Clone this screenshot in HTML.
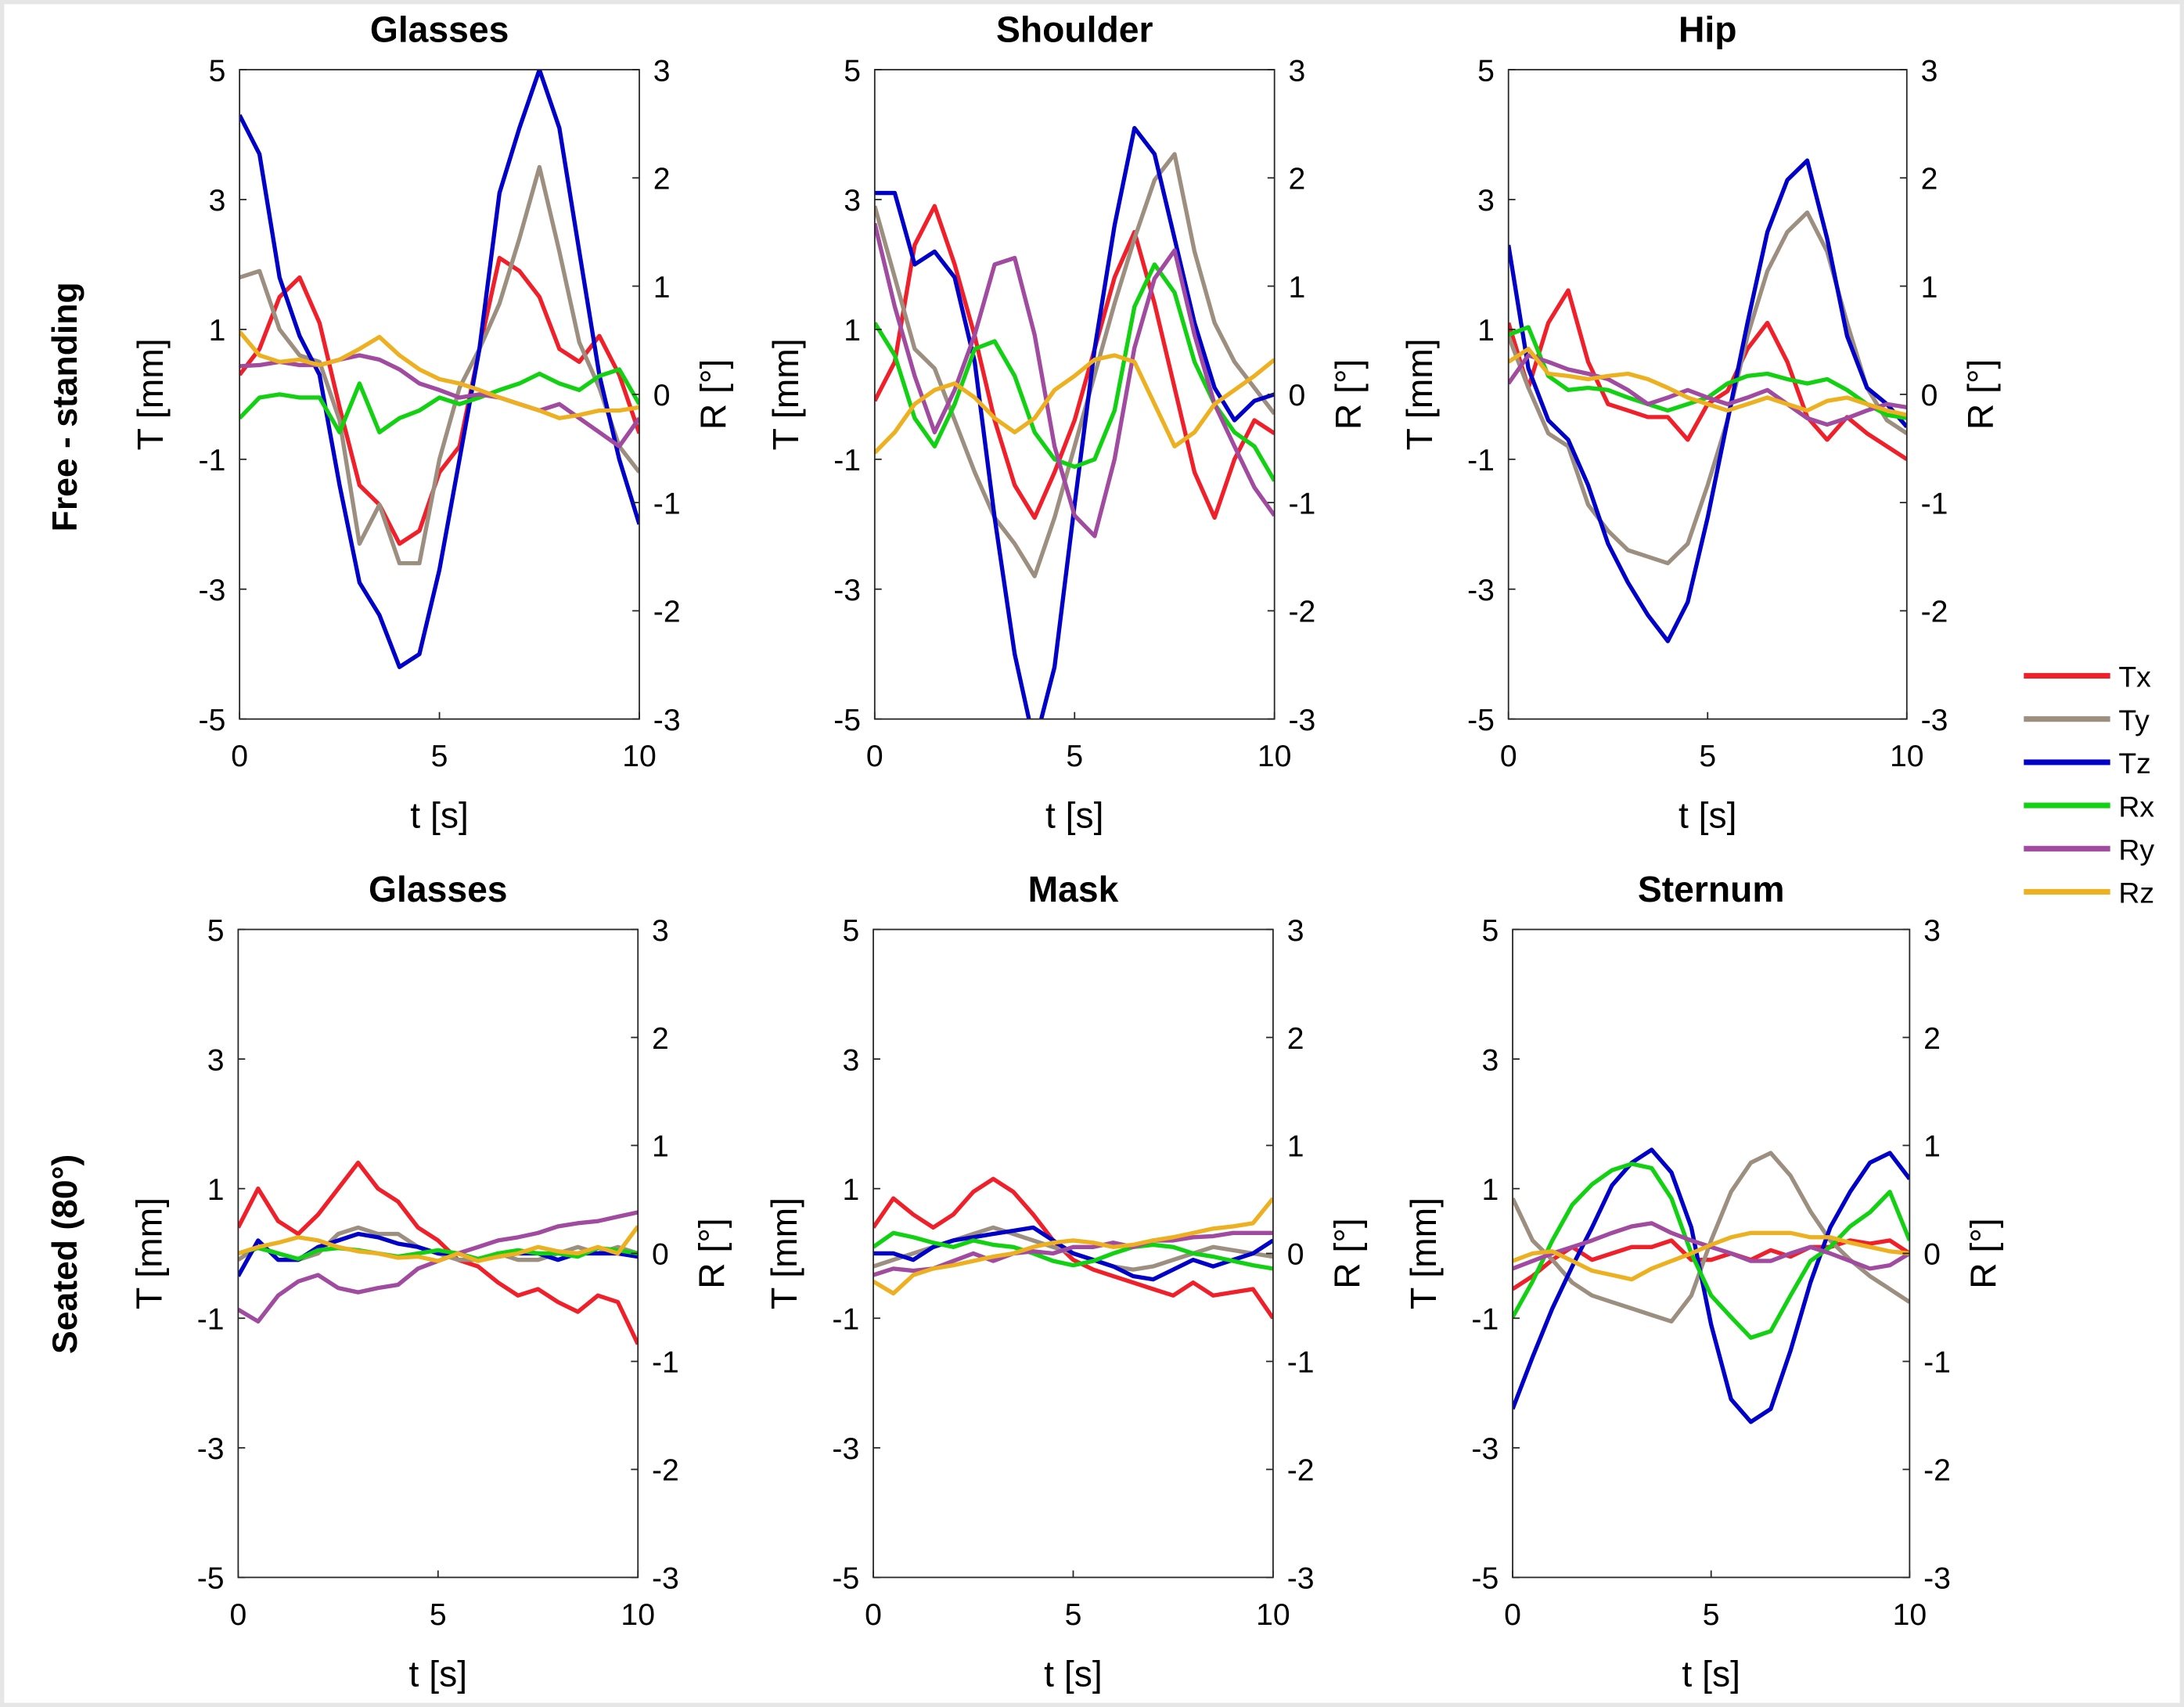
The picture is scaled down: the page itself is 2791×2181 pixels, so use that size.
<!DOCTYPE html>
<html><head><meta charset="utf-8"><style>
html,body{margin:0;padding:0;background:#fff;}
svg{display:block;font-family:"Liberation Sans",Arial,sans-serif;}
</style></head><body>
<svg id="fig" width="2791" height="2181" viewBox="0 0 1568 1225" preserveAspectRatio="none" xmlns="http://www.w3.org/2000/svg">
<rect x="0" y="0" width="1568" height="1225" fill="#e6e6e6"/>
<rect x="3" y="3" width="1562" height="1219" fill="#fff"/>
<text x="55" y="292" transform="rotate(-90 55 292)" text-anchor="middle" font-size="25" font-weight="bold">Free - standing</text>
<text x="55" y="900" transform="rotate(-90 55 900)" text-anchor="middle" font-size="25" font-weight="bold">Seated (80°)</text>
<g id="panels"></g>
<defs><clipPath id="legclip"><rect x="1440" y="460" width="109" height="200"/></clipPath></defs>
<g id="legend" clip-path="url(#legclip)"></g>
</svg>
<script>
const times = [0,0.5,1,1.5,2,2.5,3,3.5,4,4.5,5,5.5,6,6.5,7,7.5,8,8.5,9,9.5,10];
const seriesNames = ["Tx","Ty","Tz","Rx","Ry","Rz"];
const seriesColors = ["#f0202a","#9d8f80","#0000c8","#12d012","#a04aa0","#ecb020"];
const leftTicks = [5,3,1,-1,-3,-5];
const rightTicks = [3,2,1,0,-1,-2,-3];
const xTicks = [0,5,10];
const panelTitles = ["Glasses","Shoulder","Hip","Glasses","Mask","Sternum"];

// Free-standing Glasses
const g1Tx=[0.3,0.7,1.5,1.8,1.1,-0.2,-1.4,-1.7,-2.3,-2.1,-1.2,-0.8,0.7,2.1,1.9,1.5,0.7,0.5,0.9,0.3,-0.6];
const g1Ty=[1.8,1.9,1.0,0.6,0.5,-0.4,-2.3,-1.7,-2.6,-2.6,-1.0,0.1,0.7,1.4,2.4,3.5,2.2,0.8,0.1,-0.8,-1.2];
const g1Tz=[4.3,3.7,1.8,0.9,0.3,-1.4,-2.9,-3.4,-4.2,-4.0,-2.7,-1.0,0.7,3.1,4.1,5.0,4.1,2.2,0.3,-1.0,-2.0];
const g1Rx=[-0.22,-0.03,0,-0.03,-0.03,-0.35,0.1,-0.35,-0.22,-0.15,-0.03,-0.09,-0.03,0.04,0.1,0.19,0.1,0.04,0.17,0.23,-0.09];
const g1Ry=[0.26,0.27,0.3,0.27,0.27,0.32,0.36,0.32,0.23,0.1,0.04,-0.03,0,-0.03,-0.09,-0.15,-0.09,-0.22,-0.35,-0.48,-0.22];
const g1Rz=[0.58,0.36,0.3,0.32,0.27,0.32,0.42,0.53,0.36,0.23,0.14,0.1,0.04,-0.03,-0.09,-0.15,-0.22,-0.19,-0.15,-0.15,-0.12];
// Shoulder
const shTx=[-0.1,0.5,2.3,2.9,2.0,0.9,-0.4,-1.4,-1.9,-1.2,-0.4,0.7,1.8,2.5,1.4,0.1,-1.2,-1.9,-1.0,-0.4,-0.6];
const shTy=[2.9,1.8,0.7,0.4,-0.4,-1.2,-1.9,-2.3,-2.8,-1.9,-0.8,0.3,1.4,2.4,3.3,3.7,2.2,1.1,0.5,0.1,-0.3];
const shTz=[3.1,3.1,2.0,2.2,1.8,0.5,-1.9,-4.0,-5.4,-4.2,-1.7,0.7,2.6,4.1,3.7,2.4,1.1,0.1,-0.4,-0.1,0];
const shRx=[0.66,0.36,-0.22,-0.48,-0.09,0.42,0.49,0.17,-0.35,-0.6,-0.67,-0.6,-0.15,0.81,1.2,0.94,0.3,-0.09,-0.35,-0.48,-0.8];
const shRy=[1.58,0.81,0.17,-0.35,0.04,0.55,1.2,1.26,0.55,-0.48,-1.12,-1.31,-0.6,0.43,1.07,1.33,0.55,-0.09,-0.48,-0.86,-1.12];
const shRz=[-0.54,-0.35,-0.09,0.04,0.1,-0.03,-0.22,-0.35,-0.22,0.04,0.17,0.32,0.36,0.3,-0.09,-0.48,-0.35,-0.09,0.04,0.17,0.32];
// Hip
const hpTx=[1.1,0.1,1.1,1.6,0.5,-0.15,-0.25,-0.35,-0.35,-0.7,-0.15,0.05,0.7,1.1,0.5,-0.35,-0.7,-0.35,-0.6,-0.8,-1.0];
const hpTy=[0.9,0.1,-0.6,-0.8,-1.7,-2.1,-2.4,-2.5,-2.6,-2.3,-1.4,-0.4,0.9,1.9,2.5,2.8,2.2,1.1,0.1,-0.4,-0.6];
const hpTz=[2.3,0.4,-0.4,-0.7,-1.4,-2.3,-2.9,-3.4,-3.8,-3.2,-1.9,-0.4,1.1,2.5,3.3,3.6,2.4,0.9,0.1,-0.15,-0.5];
const hpRx=[0.55,0.62,0.17,0.04,0.06,0.04,-0.03,-0.09,-0.15,-0.09,-0.03,0.1,0.17,0.19,0.14,0.1,0.14,0.04,-0.09,-0.19,-0.22];
const hpRy=[0.1,0.36,0.3,0.23,0.19,0.14,0.04,-0.09,-0.03,0.04,-0.03,-0.09,-0.03,0.04,-0.09,-0.22,-0.28,-0.22,-0.15,-0.09,-0.12];
const hpRz=[0.3,0.42,0.19,0.17,0.14,0.17,0.19,0.14,0.06,-0.03,-0.09,-0.15,-0.09,-0.03,-0.09,-0.15,-0.06,-0.03,-0.09,-0.15,-0.19];
// Seated Glasses
const g2Tx=[0.4,1.0,0.5,0.3,0.6,1.0,1.4,1.0,0.8,0.4,0.2,-0.1,-0.2,-0.45,-0.65,-0.55,-0.75,-0.9,-0.65,-0.75,-1.4];
const g2Ty=[-0.1,0.1,0,-0.1,0,0.3,0.4,0.3,0.3,0.1,0,-0.1,-0.1,0,-0.1,-0.1,0,0.1,0,0.1,0];
const g2Tz=[-0.35,0.2,-0.1,-0.1,0.1,0.2,0.3,0.25,0.15,0.1,0,0,-0.1,-0.05,0,0,-0.1,0,0,0,-0.05];
const g2Rx=[0,0.05,0,-0.05,0.03,0.05,0.03,0,-0.03,0,0.03,0,-0.05,0,0.03,0,0,-0.03,0.05,0.03,0];
const g2Ry=[-0.52,-0.63,-0.39,-0.26,-0.2,-0.32,-0.36,-0.32,-0.29,-0.14,-0.07,0,0.06,0.12,0.15,0.19,0.25,0.28,0.3,0.34,0.38];
const g2Rz=[0,0.06,0.1,0.15,0.12,0.06,0.02,0,-0.04,-0.03,-0.07,0,-0.07,-0.03,0,0.06,0.02,0,0.06,0,0.25];
// Mask
const mkTx=[0.4,0.85,0.6,0.4,0.6,0.95,1.15,0.95,0.6,0.2,-0.1,-0.25,-0.35,-0.45,-0.55,-0.65,-0.45,-0.65,-0.6,-0.55,-1.0];
const mkTy=[-0.2,-0.1,0,0.1,0.2,0.3,0.4,0.3,0.2,0.1,0,-0.1,-0.2,-0.25,-0.2,-0.1,0,0.1,0.05,0,-0.05];
const mkTz=[0,0,-0.1,0.1,0.2,0.25,0.3,0.35,0.4,0.2,0,-0.1,-0.2,-0.35,-0.4,-0.25,-0.1,-0.2,-0.1,0,0.2];
const mkRx=[0.06,0.19,0.15,0.1,0.06,0.12,0.08,0.06,0,-0.07,-0.11,-0.07,0,0.06,0.08,0.06,0,-0.03,-0.07,-0.11,-0.14];
const mkRy=[-0.2,-0.14,-0.16,-0.14,-0.07,0,-0.07,0,0.02,0,0.06,0.06,0.1,0.06,0.12,0.12,0.15,0.16,0.19,0.19,0.19];
const mkRz=[-0.26,-0.37,-0.2,-0.14,-0.11,-0.07,-0.03,0,0.06,0.1,0.12,0.1,0.06,0.08,0.12,0.15,0.19,0.23,0.25,0.28,0.51];
// Sternum
const stTx=[-0.55,-0.35,-0.1,0.1,-0.1,0,0.1,0.1,0.2,-0.1,-0.1,0,-0.1,0.05,-0.05,0.1,0.1,0.2,0.15,0.2,0];
const stTy=[0.85,0.2,-0.1,-0.45,-0.65,-0.75,-0.85,-0.95,-1.05,-0.65,0.2,0.95,1.4,1.55,1.2,0.65,0.2,-0.1,-0.35,-0.55,-0.75];
const stTz=[-2.4,-1.6,-0.85,-0.2,0.4,1.05,1.4,1.6,1.25,0.4,-1.1,-2.25,-2.6,-2.4,-1.5,-0.45,0.4,0.95,1.4,1.55,1.15];
const stRx=[-0.59,-0.26,0.12,0.45,0.64,0.77,0.83,0.79,0.51,0,-0.39,-0.59,-0.78,-0.72,-0.39,-0.07,0.06,0.25,0.38,0.57,0.12];
const stRy=[-0.14,-0.07,0,0.06,0.12,0.19,0.25,0.28,0.19,0.12,0.06,0,-0.07,-0.07,0,0.06,0,-0.07,-0.14,-0.11,0];
const stRz=[-0.07,0,0.02,-0.07,-0.16,-0.2,-0.24,-0.14,-0.07,0,0.08,0.15,0.19,0.19,0.19,0.15,0.15,0.1,0.06,0.02,0];

const panelData=[[g1Tx,g1Ty,g1Tz,g1Rx,g1Ry,g1Rz],[shTx,shTy,shTz,shRx,shRy,shRz],[hpTx,hpTy,hpTz,hpRx,hpRy,hpRz],
 [g2Tx,g2Ty,g2Tz,g2Rx,g2Ry,g2Rz],[mkTx,mkTy,mkTz,mkRx,mkRy,mkRz],[stTx,stTy,stTz,stRx,stRy,stRz]];
const boxes=[[172,50,459,516],[628,50,915,516],[1083,50,1369,516],[171,667,458,1132],[627,667,914,1132],[1086,667,1371,1132]];

const NS="http://www.w3.org/2000/svg";
function mk(tag,attrs,parent,txt){const e=document.createElementNS(NS,tag);for(const k in attrs)e.setAttribute(k,attrs[k]);if(txt!==undefined)e.textContent=txt;parent.appendChild(e);return e;}
const root=document.getElementById('panels');
const defs=document.querySelector('defs');
boxes.forEach((b,pi)=>{
  const [x0,y0,x1,y1]=b;
  const xs=t=>x0+(t/10)*(x1-x0);
  const yT=v=>y0+(5-v)/10*(y1-y0);
  const yR=v=>y0+(3-v)/6*(y1-y0);
  const g=mk('g',{},root);
  
  
  const cp=mk('clipPath',{id:'cp'+pi},defs);
  mk('rect',{x:x0,y:y0,width:x1-x0,height:y1-y0},cp);
  const t=mk('text',{x:(x0+x1)/2,y:y0-20,'text-anchor':'middle','font-size':26,'font-weight':'bold'},g,panelTitles[pi]);
  
  
  // lines
  const lg=mk('g',{'clip-path':'url(#cp'+pi+')'},g);
  panelData[pi].forEach((arr,si)=>{
    const yf=si<3?yT:yR;
    const d=arr.map((v,i)=>(i?'L':'M')+xs(times[i]).toFixed(1)+','+yf(v).toFixed(1)).join(' ');
    const p=mk('path',{d:d,fill:'none',stroke:seriesColors[si],'stroke-width':3,'stroke-linejoin':'round'},lg);
    
    
  });
  const fr=mk('rect',{x:x0,y:y0,width:x1-x0,height:y1-y0,fill:'none',stroke:'#262626','stroke-width':1},g);
  
  
  leftTicks.forEach(v=>{
    const y=yT(v);
    mk('line',{x1:x0,y1:y,x2:x0+5,y2:y,stroke:'#262626'},g);
    const tx=mk('text',{x:x0-10,y:y+8,'text-anchor':'end','font-size':22},g,String(v).replace('-','-'));
    
    
  });
  rightTicks.forEach(v=>{
    const y=yR(v);
    mk('line',{x1:x1,y1:y,x2:x1-5,y2:y,stroke:'#262626'},g);
    const tx=mk('text',{x:x1+10,y:y+8,'text-anchor':'start','font-size':22},g,String(v));
    
    
  });
  xTicks.forEach(v=>{
    const x=xs(v);
    mk('line',{x1:x,y1:y1,x2:x,y2:y1-5,stroke:'#262626'},g);
    const tx=mk('text',{x:x,y:y1+34,'text-anchor':'middle','font-size':22},g,String(v));
    
    
  });
  const cy=(y0+y1)/2;
  const yl=mk('text',{x:x0-55,y:cy,transform:'rotate(-90 '+(x0-55)+' '+cy+')','text-anchor':'middle','font-size':26},g,'T [mm]');
  
  
  const yr=mk('text',{x:x1+62,y:cy,transform:'rotate(-90 '+(x1+62)+' '+cy+')','text-anchor':'middle','font-size':26},g,'R [°]');
  
  
  const xl=mk('text',{x:(x0+x1)/2,y:y1+78,'text-anchor':'middle','font-size':26},g,'t [s]');
  
  
});
const leg=document.getElementById('legend');
seriesNames.forEach((n,i)=>{
  const y=485+i*31;
  const l=mk('line',{x1:1453,y1:y,x2:1515,y2:y,stroke:seriesColors[i],'stroke-width':4},leg);
  
  
  const t=mk('text',{x:1521,y:y+8,'font-size':21},leg,n);
  
  
});
</script>
</body></html>
